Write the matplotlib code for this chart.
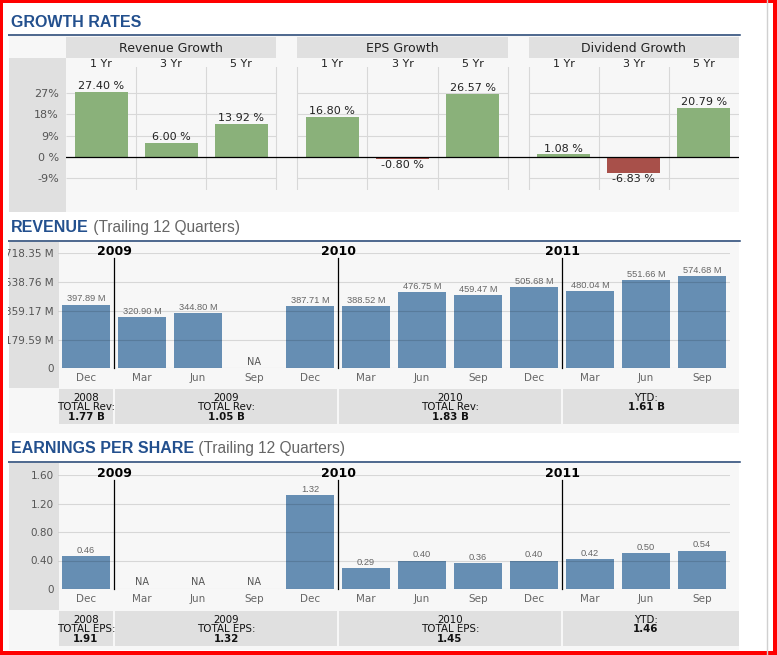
import matplotlib.pyplot as plt
from matplotlib.patches import Rectangle
from matplotlib.transforms import blended_transform_factory

W, H = 777, 655

# growth rates, percent
growth_groups = ["Revenue Growth", "EPS Growth", "Dividend Growth"]
growth_periods = ["1 Yr", "3 Yr", "5 Yr"]
revenue_growth = [27.40, 6.00, 13.92]
eps_growth = [16.80, -0.80, 26.57]
dividend_growth = [1.08, -6.83, 20.79]
growth_ticks = [-9, 0, 9, 18, 27]
growth_tick_labels = ["-9%", "0 %", "9%", "18%", "27%"]

# trailing 12 quarters (None = NA)
quarters = ["Dec", "Mar", "Jun", "Sep", "Dec", "Mar", "Jun", "Sep", "Dec", "Mar", "Jun", "Sep"]
revenue = [397.89, 320.90, 344.80, None, 387.71, 388.52, 476.75, 459.47, 505.68, 480.04, 551.66, 574.68]
revenue_ticks = [0, 179.59, 359.17, 538.76, 718.35]
revenue_tick_labels = ["0", "179.59 M", "359.17 M", "538.76 M", "718.35 M"]
eps = [0.46, None, None, None, 1.32, 0.29, 0.40, 0.36, 0.40, 0.42, 0.50, 0.54]
eps_ticks = [0, 0.40, 0.80, 1.20, 1.60]
eps_tick_labels = ["0", "0.40", "0.80", "1.20", "1.60"]

year_labels = ["2009", "2010", "2011"]
year_first_quarter = [1, 5, 9]
total_periods = ["2008", "2009", "2010", "YTD"]
total_spans = [(0, 0), (1, 4), (5, 8), (9, 11)]
revenue_totals = ["1.77 B", "1.05 B", "1.83 B", "1.61 B"]
eps_totals = ["1.91", "1.32", "1.45", "1.46"]

TITLE_BLUE = "#23508e"
RULE_BLUE = "#1d3f6f"
PANEL = "#f7f7f7"
STRIP = "#e0e0e0"
GRID = "#d8d8d8"
GREEN = "#8ab17a"
RED = "#a8504a"
BLUE = "#668eb3"

fig = plt.figure(figsize=(W / 100, H / 100), dpi=100)
bg = fig.add_axes([0, 0, 1, 1])
bg.set_xlim(0, W)
bg.set_ylim(H, 0)
bg.axis("off")


def px_axes(x0, y0, x1, y1):
    ax = fig.add_axes([x0 / W, 1 - y1 / H, (x1 - x0) / W, (y1 - y0) / H])
    ax.patch.set_visible(False)
    for s in ax.spines.values():
        s.set_visible(False)
    return ax


def box(x0, y0, x1, y1, color):
    bg.add_patch(Rectangle((x0, y0), x1 - x0, y1 - y0, color=color, lw=0))


def section_title(y_base, y_rule, bold, rest=None):
    t = bg.text(11, y_base, bold, fontfamily="Liberation Sans", fontweight="bold",
                fontsize=11.5, color=TITLE_BLUE, va="baseline")
    if rest:
        bg.annotate(" " + rest, xy=(1, 0), xycoords=t, va="bottom",
                    fontfamily="Liberation Sans", fontsize=11.2, color="#666666")
    bg.plot([8, 740], [y_rule, y_rule], color=RULE_BLUE, lw=1.1)


# ---------- growth rates ----------
section_title(26.7, 35, "GROWTH RATES")
box(8.5, 36, 739, 212, PANEL)
box(8.5, 58, 66, 212, STRIP)

ax = px_axes(66, 67, 739, 190)
tr = blended_transform_factory(ax.transData, bg.transData)
gap = 0.3
for g, (name, vals) in enumerate(zip(growth_groups, [revenue_growth, eps_growth, dividend_growth])):
    left = g * (3 + gap)
    ax.add_patch(Rectangle((left, 37), 3, 21, transform=tr, color=STRIP, lw=0, clip_on=False))
    ax.text(left + 1.5, 48, name, transform=tr, ha="center", va="center", fontsize=9, color="#222222")
    ax.hlines([t for t in growth_ticks if t != 0], left, left + 3, color=GRID, lw=0.8, zorder=1)
    for k in range(4):
        if (g, k) not in [(0, 0), (2, 3)]:
            ax.axvline(left + k, color=GRID, lw=0.8, zorder=1)
    xs = [left + c + 0.5 for c in range(3)]
    ax.bar(xs, vals, width=0.755, color=[GREEN if v >= 0 else RED for v in vals], zorder=2)
    for x, v, p in zip(xs, vals, growth_periods):
        ax.text(x, 64, p, transform=tr, ha="center", va="center", fontsize=8, color="#222222")
        ax.annotate(f"{v:.2f} %", (x, v), xytext=(0, 0.5 if v >= 0 else -0.5),
                    textcoords="offset points", ha="center",
                    va="bottom" if v >= 0 else "top", fontsize=8, color="#222222")
ax.axhline(0, color="black", lw=0.9, zorder=3)
ax.set_yticks(growth_ticks, growth_tick_labels)
ax.set_xticks([])
ax.tick_params(axis="y", length=0, pad=5, labelsize=8, labelcolor="#555555")
ax.set_xlim(0, 9 + 2 * gap)
ax.set_ylim(-13.92, 37.97)


# ---------- quarterly charts ----------
def quarter_chart(top, bottom, values, ticks, tick_labels, fmt, totals_top, word, totals):
    ax = px_axes(58, top, 730, bottom)
    tr = blended_transform_factory(ax.transData, bg.transData)
    xs = list(range(len(quarters)))
    shown = [(x, v) for x, v in zip(xs, values) if v is not None]
    ax.bar([x for x, _ in shown], [v for _, v in shown], width=48 / 56, color=BLUE, zorder=2)
    ax.hlines(ticks, -0.5, 11.5, color="black", alpha=0.13, lw=0.8, zorder=3)
    for x, v in zip(xs, values):
        if v is None:
            ax.annotate("NA", (x, 0), xytext=(0, 1.2), textcoords="offset points",
                        ha="center", va="bottom", fontsize=7, color="#555555")
        else:
            ax.annotate(fmt.format(v), (x, v), xytext=(0, 0.8), textcoords="offset points",
                        ha="center", va="bottom", fontfamily="Liberation Sans",
                        fontsize=6.7, color="#666666")
    for name, q in zip(year_labels, year_first_quarter):
        ax.plot([q - 0.5, q - 0.5], [top + 4.5, bottom], transform=tr, color="black",
                lw=0.9, zorder=4, clip_on=False)
        ax.text(q - 0.5, top - 1.5, name, transform=tr, ha="center", va="center",
                fontweight="bold", fontsize=9, color="black")
    for i, (period, (s, e), total) in enumerate(zip(total_periods, total_spans, totals)):
        x0 = s - 0.5 + 0.009
        x1 = e + 0.5 - 0.009 if i < len(totals) - 1 else e + 0.5 + 9 / 56
        ax.add_patch(Rectangle((x0, totals_top), x1 - x0, 35, transform=tr, color=STRIP,
                               lw=0, clip_on=False))
        cx = (s + e) / 2
        if period == "YTD":
            lines = [("YTD:", "normal"), (total, "bold")]
        else:
            lines = [(period, "normal"), (f"TOTAL {word}:", "normal"), (total, "bold")]
        for k, (txt, wt) in enumerate(lines):
            ax.text(cx, totals_top + 8.7 + 9.8 * k, txt, transform=tr, ha="center",
                    va="center", fontsize=7.4, fontweight=wt, color="#111111")
    ax.set_xticks(xs, quarters)
    ax.set_yticks(ticks, tick_labels)
    ax.tick_params(axis="x", length=0, pad=3.7, labelsize=7.5, labelcolor="#666666")
    ax.tick_params(axis="y", length=0, pad=3, labelsize=7.5, labelcolor="#555555")
    ax.set_xlim(-0.5, 11.5)
    ax.set_ylim(0, ticks[-1])
    return ax


section_title(232.3, 241, "REVENUE", "(Trailing 12 Quarters)")
box(8.5, 242, 739, 433, PANEL)
box(8.5, 242, 58.5, 388, STRIP)
quarter_chart(253.3, 368.3, revenue, revenue_ticks, revenue_tick_labels, "{:.2f} M",
              389, "Rev", revenue_totals)

section_title(453.3, 462, "EARNINGS PER SHARE", "(Trailing 12 Quarters)")
box(8.5, 463, 739, 650, PANEL)
box(8.5, 463, 58.5, 610, STRIP)
quarter_chart(475, 589, eps, eps_ticks, eps_tick_labels, "{:.2f}",
              611, "EPS", eps_totals)

# ---------- frame on top ----------
fg = fig.add_axes([0, 0, 1, 1])
fg.set_xlim(0, W)
fg.set_ylim(H, 0)
fg.axis("off")
fg.patch.set_visible(False)
fg.add_patch(Rectangle((3, 3), 5.3, H - 6, color="white", lw=0))
fg.plot([767, 767], [0, H], color="#d0d0d0", lw=1)
for x0, y0, w, h in [(0, 0, W, 3), (0, 651, W, 4), (0, 0, 3, H), (773, 0, 4, H)]:
    fg.add_patch(Rectangle((x0, y0), w, h, color="red", lw=0))

fig.savefig("out.png", dpi=100)
